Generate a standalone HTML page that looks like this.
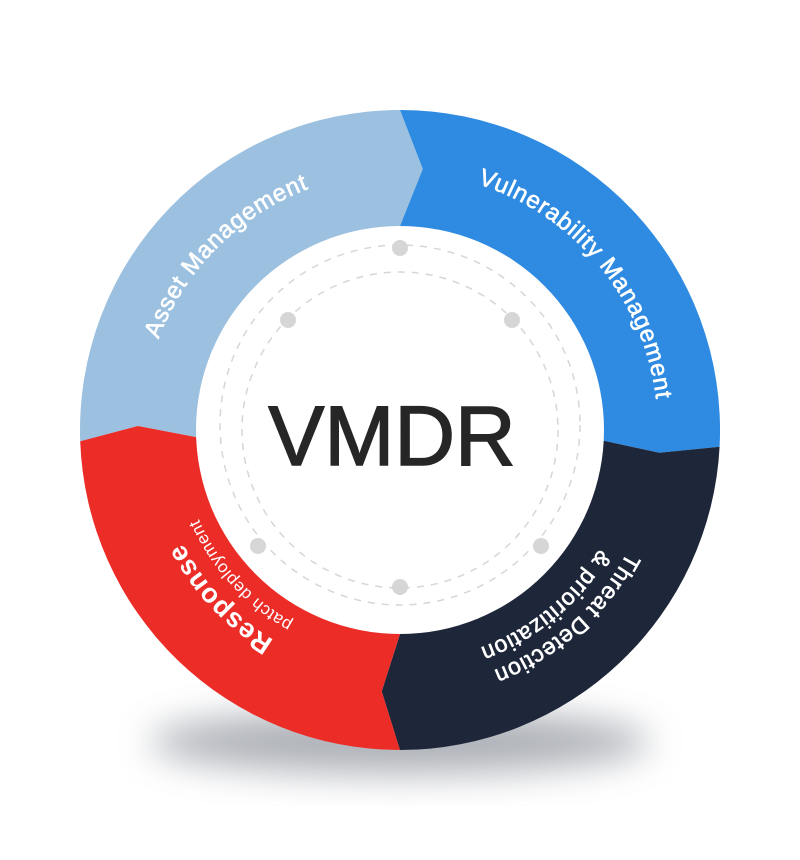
<!DOCTYPE html>
<html><head><meta charset="utf-8"><style>
html,body{margin:0;padding:0;background:#fff;}
svg{display:block}
text{font-family:"Liberation Sans",sans-serif;fill:#fff}
.t{stroke:#fff;stroke-width:0.6}
</style></head><body>
<svg width="800" height="860" viewBox="0 0 800 860" xmlns="http://www.w3.org/2000/svg">
<defs>
<filter id="blur" x="-50%" y="-50%" width="200%" height="200%"><feGaussianBlur stdDeviation="18"/></filter>
<path id="pAsset" d="M 142 430 A 258 258 0 0 1 400 172"/>
<path id="pVuln" d="M 400 172 A 258 258 0 0 1 658 430"/>
<path id="pThreat" d="M 658 430 A 258 258 0 0 1 400 688"/>
<path id="pPrio" d="M 632 430 A 232 232 0 0 1 400 662"/>
<path id="pResp" d="M 400 675 A 245 245 0 0 1 155 430"/>
<path id="pPatch" d="M 400 650 A 220 220 0 0 1 180 430"/>
</defs>
<ellipse cx="400" cy="742" rx="250" ry="32" fill="#9a9ea6" filter="url(#blur)" opacity="0.8"/>
<path fill="#9cc0e0" d="M 80.2 441.2 A 320 320 0 0 1 400 110 L 422.8 169 L 400 226 L 196.1 437.1 L 138 426 Z"/>
<path fill="#2f8be1" d="M 400 110 A 320 320 0 0 1 719.6 446.7 L 659.4 452.8 L 603.7 440.7 L 400 226 L 422.8 169 Z"/>
<path fill="#1e2639" d="M 719.6 446.7 A 320 320 0 0 1 400 750 L 381.7 691.4 L 400 634 L 603.7 440.7 L 659.4 452.8 Z"/>
<path fill="#ec2d27" d="M 400 750 A 320 320 0 0 1 80.2 441.2 L 138 426 L 196.1 437.1 L 400 634 L 381.7 691.4 Z"/>
<circle cx="400" cy="430" r="204" fill="#fff"/>
<circle cx="400" cy="425" r="180" fill="none" stroke="#d6d6d6" stroke-width="1.5" stroke-dasharray="7 7"/>
<circle cx="400" cy="430" r="158" fill="none" stroke="#d6d6d6" stroke-width="1.5" stroke-dasharray="7 7"/>
<g fill="#d6d6d6">
<circle cx="400" cy="248" r="8"/><circle cx="288" cy="320" r="8"/><circle cx="512" cy="320" r="8"/>
<circle cx="258" cy="546" r="8"/><circle cx="541" cy="546" r="8"/><circle cx="400" cy="587" r="8"/>
</g>
<text x="392" y="465" text-anchor="middle" font-size="84" style="fill:#262626;stroke:#262626;stroke-width:1.5">VMDR</text>
<text class="t" font-size="24" letter-spacing="0.8"><textPath href="#pAsset" startOffset="50%" text-anchor="middle">Asset Management</textPath></text>
<text class="t" font-size="24" letter-spacing="0.8"><textPath href="#pVuln" startOffset="56%" text-anchor="middle">Vulnerability Management</textPath></text>
<text class="t" font-size="23" letter-spacing="0.8"><textPath href="#pThreat" startOffset="54%" text-anchor="middle">Threat Detection</textPath></text>
<text class="t" font-size="23" letter-spacing="0.8"><textPath href="#pPrio" startOffset="56%" text-anchor="middle">&amp; prioritization</textPath></text>
<text font-size="27" font-weight="bold" letter-spacing="0.8"><textPath href="#pResp" startOffset="52%" text-anchor="middle">Response</textPath></text>
<text font-size="17" letter-spacing="0.5"><textPath href="#pPatch" startOffset="53%" text-anchor="middle">patch deployment</textPath></text>
</svg>
</body></html>
